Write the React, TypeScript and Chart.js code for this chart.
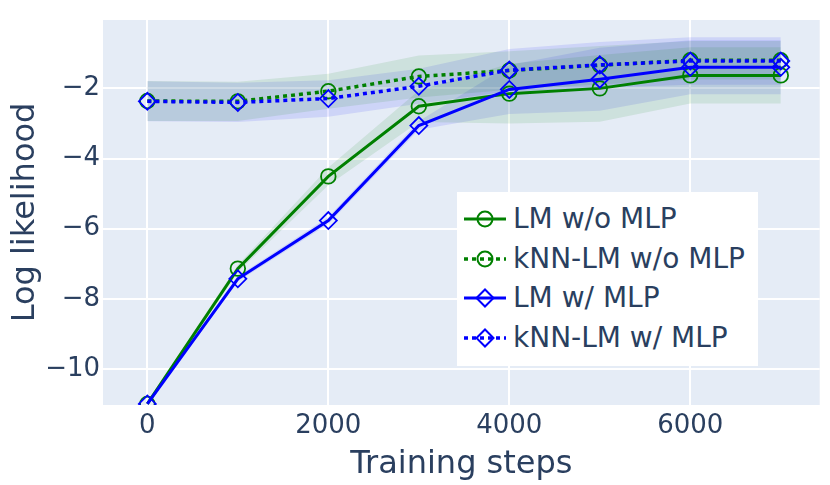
import React, { useEffect, useRef } from 'react';
import { Chart, registerables } from 'chart.js';

Chart.register(...registerables);

// ---- data ----
const steps = [0, 1000, 2000, 3000, 4000, 5000, 6000, 7000];

const lmWoMlp = [-11.0, -7.14, -4.51, -2.51, -2.15, -2.0, -1.63, -1.63];
const lmWoMlpSpread = [0.05, 0.1, 0.25, 0.45, 0.85, 0.95, 0.8, 0.8];

const knnWoMlp = [-2.36, -2.37, -2.08, -1.66, -1.49, -1.34, -1.2, -1.2];
const knnWoMlpSpread = [0.57, 0.56, 0.5, 0.6, 0.55, 0.55, 0.55, 0.55];

const lmWMlp = [-11.0, -7.43, -5.77, -3.06, -2.03, -1.74, -1.4, -1.4];
const lmWMlpSpread = [0.05, 0.08, 0.1, 0.12, 0.7, 0.9, 0.77, 0.77];

const knnWMlp = [-2.37, -2.4, -2.29, -1.94, -1.48, -1.33, -1.22, -1.22];
const knnWMlpSpread = [0.57, 0.56, 0.52, 0.5, 0.6, 0.65, 0.68, 0.68];

const xTicks = [0, 2000, 4000, 6000];
const yTicks = [-10, -8, -6, -4, -2];

const seriesNames = ['LM w/o MLP', 'kNN-LM w/o MLP', 'LM w/ MLP', 'kNN-LM w/ MLP'];

// ---- styling ----
const GREEN = '#008000';
const BLUE = '#0000ff';
const GREEN_FILL = 'rgba(0,128,0,0.1)';
const BLUE_FILL = 'rgba(0,0,255,0.1)';
const TEXT = '#2a3f5f';
const PLOT_BG = '#E5ECF6';
const FONT = "'DejaVu Sans', sans-serif";

type Series = {
  name: string;
  values: number[];
  spread: number[];
  color: string;
  fill: string;
  marker: 'circle' | 'rectRot';
  dotted: boolean;
  order: number;
};

const series: Series[] = [
  { name: seriesNames[0], values: lmWoMlp, spread: lmWoMlpSpread, color: GREEN, fill: GREEN_FILL, marker: 'circle', dotted: false, order: 4 },
  { name: seriesNames[1], values: knnWoMlp, spread: knnWoMlpSpread, color: GREEN, fill: GREEN_FILL, marker: 'circle', dotted: true, order: 3 },
  { name: seriesNames[2], values: lmWMlp, spread: lmWMlpSpread, color: BLUE, fill: BLUE_FILL, marker: 'rectRot', dotted: false, order: 2 },
  { name: seriesNames[3], values: knnWMlp, spread: knnWMlpSpread, color: BLUE, fill: BLUE_FILL, marker: 'rectRot', dotted: true, order: 1 },
];

const plotBg = {
  id: 'plotBg',
  beforeDraw(chart: any) {
    const { ctx, chartArea } = chart;
    ctx.save();
    ctx.fillStyle = PLOT_BG;
    ctx.fillRect(chartArea.left, chartArea.top, chartArea.right - chartArea.left, chartArea.bottom - chartArea.top);
    ctx.restore();
  },
};

function LegendSample({ s }: { s: Series }) {
  const w = 42;
  const h = 24;
  const cy = h / 2;
  const cx = w / 2;
  return (
    <svg width={w} height={h} style={{ position: 'absolute', left: 7, top: -h / 2 }}>
      <line
        x1={0}
        y1={cy}
        x2={w}
        y2={cy}
        stroke={s.color}
        strokeWidth={s.dotted ? 3.5 : 3}
        strokeDasharray={s.dotted ? '4,4' : undefined}
      />
      {s.marker === 'circle' ? (
        <circle cx={cx} cy={cy} r={7.5} fill="none" stroke={s.color} strokeWidth={2} />
      ) : (
        <polygon
          points={`${cx - 8.5},${cy} ${cx},${cy - 8.5} ${cx + 8.5},${cy} ${cx},${cy + 8.5}`}
          fill="none"
          stroke={s.color}
          strokeWidth={2}
        />
      )}
    </svg>
  );
}

export default function App() {
  const canvasRef = useRef<HTMLCanvasElement | null>(null);

  useEffect(() => {
    if (!canvasRef.current) return;

    const datasets: any[] = [];
    series.forEach((s) => {
      datasets.push({
        label: s.name,
        data: steps.map((x, i) => ({ x, y: s.values[i] })),
        borderColor: s.color,
        borderWidth: s.dotted ? 3.5 : 3,
        borderDash: s.dotted ? [4, 4] : [],
        pointStyle: s.marker,
        pointRadius: s.marker === 'circle' ? 7.3 : 8.5,
        pointBorderWidth: 1.8,
        pointBorderColor: s.color,
        pointBackgroundColor: 'rgba(0,0,0,0)',
        fill: false,
        tension: 0,
        order: s.order,
        clip: 0,
      });
    });
    series.forEach((s, k) => {
      datasets.push({
        label: s.name + ' upper',
        data: steps.map((x, i) => ({ x, y: s.values[i] + s.spread[i] })),
        borderWidth: 0,
        pointRadius: 0,
        fill: false,
        tension: 0,
        order: 20 + k,
        clip: 0,
      });
      datasets.push({
        label: s.name + ' lower',
        data: steps.map((x, i) => ({ x, y: s.values[i] - s.spread[i] })),
        borderWidth: 0,
        pointRadius: 0,
        fill: '-1',
        backgroundColor: s.fill,
        tension: 0,
        order: 20 + k,
        clip: 0,
      });
    });

    const chart = new Chart(canvasRef.current, {
      type: 'line',
      data: { datasets },
      plugins: [plotBg],
      options: {
        animation: false,
        responsive: true,
        maintainAspectRatio: false,
        events: [],
        layout: { padding: { top: 20, right: 2, left: 0, bottom: 0 } },
        plugins: {
          legend: { display: false },
          tooltip: { enabled: false },
          filler: { propagate: false },
        },
        scales: {
          x: {
            type: 'linear',
            min: -490,
            max: 7430,
            afterBuildTicks: (scale: any) => {
              scale.ticks = xTicks.map((v) => ({ value: v }));
            },
            afterFit: (scale: any) => {
              scale.height = 80;
            },
            grid: { color: '#ffffff', lineWidth: 2, drawTicks: false },
            border: { display: false },
            ticks: {
              padding: 6,
              color: TEXT,
              font: { family: FONT, size: 26 },
              maxRotation: 0,
              callback: (v: any) => String(v),
            },
            title: {
              display: true,
              text: 'Training steps',
              color: TEXT,
              font: { family: FONT, size: 32 },
              padding: { top: 0, bottom: 1 },
            },
          },
          y: {
            type: 'linear',
            min: -11.03,
            max: -0.05,
            afterBuildTicks: (scale: any) => {
              scale.ticks = yTicks.map((v) => ({ value: v }));
            },
            afterFit: (scale: any) => {
              scale.width = 103;
            },
            grid: { color: '#ffffff', lineWidth: 2, drawTicks: false },
            border: { display: false },
            ticks: {
              padding: 3,
              color: TEXT,
              font: { family: FONT, size: 26 },
              callback: (v: any) => (Number(v) < 0 ? '\u2212' + Math.abs(Number(v)) : String(v)),
            },
            title: {
              display: true,
              text: 'Log likelihood',
              color: TEXT,
              font: { family: FONT, size: 32 },
              padding: { top: 6, bottom: 0 },
            },
          },
        },
      },
    });

    return () => {
      chart.destroy();
    };
  }, []);

  return (
    <div style={{ position: 'absolute', left: 0, top: 0, width: 830, height: 485, background: '#ffffff' }}>
      <canvas ref={canvasRef} />
      <div
        style={{
          position: 'absolute',
          left: 457,
          top: 192,
          width: 301,
          height: 174,
          background: '#ffffff',
          fontFamily: FONT,
          fontSize: 28,
          color: TEXT,
        }}
      >
        {series.map((s, i) => (
          <div key={s.name} style={{ position: 'absolute', left: 0, top: 27 + i * 39.7, width: 301, height: 0 }}>
            <LegendSample s={s} />
            <span style={{ position: 'absolute', left: 56, top: -17, lineHeight: '34px', whiteSpace: 'nowrap' }}>{s.name}</span>
          </div>
        ))}
      </div>
    </div>
  );
}
